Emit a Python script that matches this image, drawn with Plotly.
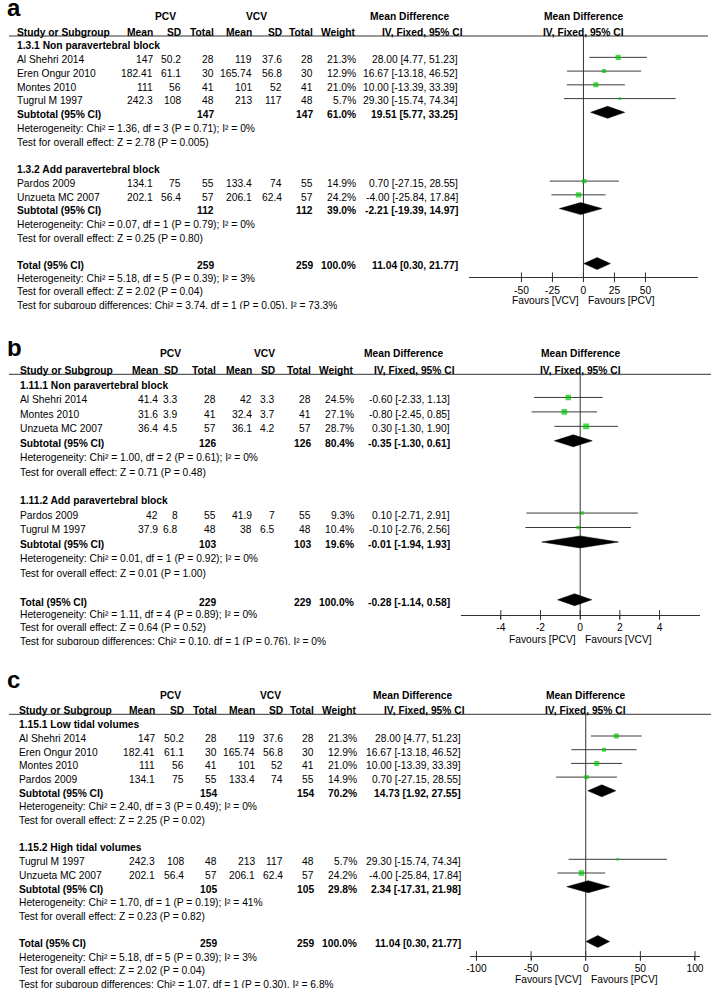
import plotly.graph_objects as go

W, H = 716, 992
FONT = "Liberation Sans, Arial, Helvetica, sans-serif"
FS = 10.25
GREEN = "#00c800"
DARK = "#333333"
TXT_DY = 2.3

# ---------------- Panel a : data ----------------
A_GROUPS = ["1.3.1 Non paravertebral block", "1.3.2 Add paravertebral block"]
A_STUDY = ["Al Shehri 2014", "Eren Ongur 2010", "Montes 2010", "Tugrul M 1997",
           "Pardos 2009", "Unzueta MC 2007"]
A_GROUP_OF = [0, 0, 0, 0, 1, 1]
A_PCV_MEAN = [147, 182.41, 111, 242.3, 134.1, 202.1]
A_PCV_SD = [50.2, 61.1, 56, 108, 75, 56.4]
A_PCV_N = [28, 30, 41, 48, 55, 57]
A_VCV_MEAN = [119, 165.74, 101, 213, 133.4, 206.1]
A_VCV_SD = [37.6, 56.8, 52, 117, 74, 62.4]
A_VCV_N = [28, 30, 41, 48, 55, 57]
A_WEIGHT = [21.3, 12.9, 21.0, 5.7, 14.9, 24.2]
A_MD = [28.00, 16.67, 10.00, 29.30, 0.70, -4.00]
A_LO = [4.77, -13.18, -13.39, -15.74, -27.15, -25.84]
A_HI = [51.23, 46.52, 33.39, 74.34, 28.55, 17.84]
A_SUB_PCV_N = [147, 112]
A_SUB_VCV_N = [147, 112]
A_SUB_WEIGHT = [61.0, 39.0]
A_SUB_MD = [19.51, -2.21]
A_SUB_LO = [5.77, -19.39]
A_SUB_HI = [33.25, 14.97]
A_SUB_HET = ["Chi² = 1.36, df = 3 (P = 0.71); I² = 0%",
             "Chi² = 0.07, df = 1 (P = 0.79); I² = 0%"]
A_SUB_Z = ["Z = 2.78 (P = 0.005)", "Z = 0.25 (P = 0.80)"]
A_TOT_N = [259, 259]
A_TOT_WEIGHT = 100.0
A_TOT_CI = [11.04, 0.30, 21.77]
A_TOT_HET = "Chi² = 5.18, df = 5 (P = 0.39); I² = 3%"
A_TOT_Z = "Z = 2.02 (P = 0.04)"
A_SUBDIFF = "Chi² = 3.74, df = 1 (P = 0.05), I² = 73.3%"
A_TICKS = [-50, -25, 0, 25, 50]
A_TICK_LABELS = ["-50", "-25", "0", "25", "50"]
A_FAVOURS = ["Favours [VCV]", "Favours [PCV]"]

# ---------------- Panel b : data ----------------
B_GROUPS = ["1.11.1 Non paravertebral block", "1.11.2 Add paravertebral block"]
B_STUDY = ["Al Shehri 2014", "Montes 2010", "Unzueta MC 2007", "Pardos 2009", "Tugrul M 1997"]
B_GROUP_OF = [0, 0, 0, 1, 1]
B_PCV_MEAN = [41.4, 31.6, 36.4, 42, 37.9]
B_PCV_SD = [3.3, 3.9, 4.5, 8, 6.8]
B_PCV_N = [28, 41, 57, 55, 48]
B_VCV_MEAN = [42, 32.4, 36.1, 41.9, 38]
B_VCV_SD = [3.3, 3.7, 4.2, 7, 6.5]
B_VCV_N = [28, 41, 57, 55, 48]
B_WEIGHT = [24.5, 27.1, 28.7, 9.3, 10.4]
B_MD = [-0.60, -0.80, 0.30, 0.10, -0.10]
B_LO = [-2.33, -2.45, -1.30, -2.71, -2.76]
B_HI = [1.13, 0.85, 1.90, 2.91, 2.56]
B_SUB_PCV_N = [126, 103]
B_SUB_VCV_N = [126, 103]
B_SUB_WEIGHT = [80.4, 19.6]
B_SUB_MD = [-0.35, -0.01]
B_SUB_LO = [-1.30, -1.94]
B_SUB_HI = [0.61, 1.93]
B_SUB_HET = ["Chi² = 1.00, df = 2 (P = 0.61); I² = 0%",
             "Chi² = 0.01, df = 1 (P = 0.92); I² = 0%"]
B_SUB_Z = ["Z = 0.71 (P = 0.48)", "Z = 0.01 (P = 1.00)"]
B_TOT_N = [229, 229]
B_TOT_WEIGHT = 100.0
B_TOT_CI = [-0.28, -1.14, 0.58]
B_TOT_HET = "Chi² = 1.11, df = 4 (P = 0.89); I² = 0%"
B_TOT_Z = "Z = 0.64 (P = 0.52)"
B_SUBDIFF = "Chi² = 0.10, df = 1 (P = 0.76), I² = 0%"
B_TICKS = [-4, -2, 0, 2, 4]
B_TICK_LABELS = ["-4", "-2", "0", "2", "4"]
B_FAVOURS = ["Favours [PCV]", "Favours [VCV]"]

# ---------------- Panel c : data ----------------
C_GROUPS = ["1.15.1 Low tidal volumes", "1.15.2 High tidal volumes"]
C_STUDY = ["Al Shehri 2014", "Eren Ongur 2010", "Montes 2010", "Pardos 2009",
           "Tugrul M 1997", "Unzueta MC 2007"]
C_GROUP_OF = [0, 0, 0, 0, 1, 1]
C_PCV_MEAN = [147, 182.41, 111, 134.1, 242.3, 202.1]
C_PCV_SD = [50.2, 61.1, 56, 75, 108, 56.4]
C_PCV_N = [28, 30, 41, 55, 48, 57]
C_VCV_MEAN = [119, 165.74, 101, 133.4, 213, 206.1]
C_VCV_SD = [37.6, 56.8, 52, 74, 117, 62.4]
C_VCV_N = [28, 30, 41, 55, 48, 57]
C_WEIGHT = [21.3, 12.9, 21.0, 14.9, 5.7, 24.2]
C_MD = [28.00, 16.67, 10.00, 0.70, 29.30, -4.00]
C_LO = [4.77, -13.18, -13.39, -27.15, -15.74, -25.84]
C_HI = [51.23, 46.52, 33.39, 28.55, 74.34, 17.84]
C_SUB_PCV_N = [154, 105]
C_SUB_VCV_N = [154, 105]
C_SUB_WEIGHT = [70.2, 29.8]
C_SUB_MD = [14.73, 2.34]
C_SUB_LO = [1.92, -17.31]
C_SUB_HI = [27.55, 21.98]
C_SUB_HET = ["Chi² = 2.40, df = 3 (P = 0.49); I² = 0%",
             "Chi² = 1.70, df = 1 (P = 0.19); I² = 41%"]
C_SUB_Z = ["Z = 2.25 (P = 0.02)", "Z = 0.23 (P = 0.82)"]
C_TOT_N = [259, 259]
C_TOT_WEIGHT = 100.0
C_TOT_CI = [11.04, 0.30, 21.77]
C_TOT_HET = "Chi² = 5.18, df = 5 (P = 0.39); I² = 3%"
C_TOT_Z = "Z = 2.02 (P = 0.04)"
C_SUBDIFF = "Chi² = 1.07, df = 1 (P = 0.30), I² = 6.8%"
C_TICKS = [-100, -50, 0, 50, 100]
C_TICK_LABELS = ["-100", "-50", "0", "50", "100"]
C_FAVOURS = ["Favours [VCV]", "Favours [PCV]"]

HEAD_COLS = ["Mean", "SD", "Total", "Mean", "SD", "Total", "Weight"]

# ---------------- page geometry (pixels) ----------------
GEO = [
    dict(label="a", label_base=15, head1=16.7, head2=32.3, line_y=36, row0=43.6, dy=13.75,
         foot_dy=12.8, axis_y=277.3, fav_y=300.7, left=12,
         cols=[152, 180, 213, 252, 282, 313, 357],
         pcv_x=163, vcv_x=255, md_left=369, iv_right=465, ci_right=460,
         dom=(470, 702), rng=(-92.5, 92.5), line_r=712),
    dict(label="b", label_base=355, head1=353.3, head2=370, line_y=374.3, row0=383, dy=14.45,
         foot_dy=12.8, axis_y=615, fav_y=639.3, left=15,
         cols=[157, 177, 215, 252, 275, 311, 355],
         pcv_x=168, vcv_x=263, md_left=363, iv_right=457, ci_right=452,
         dom=(461.7, 704.3), rng=(-6.03, 6.06), line_r=715),
    dict(label="c", label_base=687, head1=695, head2=710.7, line_y=714.3, row0=722.3, dy=13.7,
         foot_dy=13.2, axis_y=956, fav_y=979.3, left=14,
         cols=[154, 183, 216, 255, 283, 315, 358],
         pcv_x=168, vcv_x=270, md_left=372, iv_right=467, ci_right=463,
         dom=(471.7, 704), rng=(-105.5, 104.7), line_r=715),
]

DATA = [
    dict(groups=A_GROUPS, study=A_STUDY, group_of=A_GROUP_OF, pm=A_PCV_MEAN, psd=A_PCV_SD,
         pn=A_PCV_N, vm=A_VCV_MEAN, vsd=A_VCV_SD, vn=A_VCV_N, w=A_WEIGHT, md=A_MD, lo=A_LO,
         hi=A_HI, spn=A_SUB_PCV_N, svn=A_SUB_VCV_N, sw=A_SUB_WEIGHT, smd=A_SUB_MD,
         slo=A_SUB_LO, shi=A_SUB_HI, shet=A_SUB_HET, sz=A_SUB_Z, tn=A_TOT_N, tw=A_TOT_WEIGHT,
         tci=A_TOT_CI, thet=A_TOT_HET, tz=A_TOT_Z, sdiff=A_SUBDIFF, ticks=A_TICKS,
         ticklab=A_TICK_LABELS, fav=A_FAVOURS),
    dict(groups=B_GROUPS, study=B_STUDY, group_of=B_GROUP_OF, pm=B_PCV_MEAN, psd=B_PCV_SD,
         pn=B_PCV_N, vm=B_VCV_MEAN, vsd=B_VCV_SD, vn=B_VCV_N, w=B_WEIGHT, md=B_MD, lo=B_LO,
         hi=B_HI, spn=B_SUB_PCV_N, svn=B_SUB_VCV_N, sw=B_SUB_WEIGHT, smd=B_SUB_MD,
         slo=B_SUB_LO, shi=B_SUB_HI, shet=B_SUB_HET, sz=B_SUB_Z, tn=B_TOT_N, tw=B_TOT_WEIGHT,
         tci=B_TOT_CI, thet=B_TOT_HET, tz=B_TOT_Z, sdiff=B_SUBDIFF, ticks=B_TICKS,
         ticklab=B_TICK_LABELS, fav=B_FAVOURS),
    dict(groups=C_GROUPS, study=C_STUDY, group_of=C_GROUP_OF, pm=C_PCV_MEAN, psd=C_PCV_SD,
         pn=C_PCV_N, vm=C_VCV_MEAN, vsd=C_VCV_SD, vn=C_VCV_N, w=C_WEIGHT, md=C_MD, lo=C_LO,
         hi=C_HI, spn=C_SUB_PCV_N, svn=C_SUB_VCV_N, sw=C_SUB_WEIGHT, smd=C_SUB_MD,
         slo=C_SUB_LO, shi=C_SUB_HI, shet=C_SUB_HET, sz=C_SUB_Z, tn=C_TOT_N, tw=C_TOT_WEIGHT,
         tci=C_TOT_CI, thet=C_TOT_HET, tz=C_TOT_Z, sdiff=C_SUBDIFF, ticks=C_TICKS,
         ticklab=C_TICK_LABELS, fav=C_FAVOURS),
]

fig = go.Figure()
ann = []
shapes = []
axes = {}


def T(x, y, s, anchor="left", bold=False, size=FS, xref="paper", xshift=0):
    ann.append(dict(x=(x / W) if xref == "paper" else x, xref=xref, y=y, yref="y",
                    text=f"<b>{s}</b>" if bold else s, xanchor=anchor, yanchor="middle",
                    showarrow=False, borderpad=0, xshift=xshift,
                    font=dict(family=FONT, size=size, color="black")))


def T_clipped(x, y, s):
    # the last line of every panel is cut off at its baseline in the source figure
    ann.append(dict(x=x / W, xref="paper", y=y - 5.7, yref="y", text=s,
                    xanchor="left", yanchor="top", valign="top", height=9,
                    showarrow=False, borderpad=0,
                    font=dict(family=FONT, size=FS, color="black")))


def panel_label(base, s):
    # bottom-aligned box of 20 px whose text baseline sits at `base`
    ann.append(dict(x=2 / W, xref="paper", y=base - 15, yref="y", text=f"<b>{s}</b>",
                    xanchor="left", yanchor="top", valign="bottom", height=20,
                    showarrow=False, borderpad=0,
                    font=dict(family=FONT, size=24, color="black")))


def g(v):
    return f"{v:g}"


def ci(md, lo, hi):
    return f"{md:.2f} [{lo:.2f}, {hi:.2f}]"


for n, (D, G) in enumerate(zip(DATA, GEO), start=1):
    xa = "x" if n == 1 else f"x{n}"
    axkey = "xaxis" if n == 1 else f"xaxis{n}"

    def ry(k):
        return G["row0"] + k * G["dy"]

    # headers
    panel_label(G["label_base"], G["label"])
    T(G["pcv_x"], G["head1"], "PCV", "center", True)
    T(G["vcv_x"], G["head1"], "VCV", "center", True)
    T(G["left"], G["head2"], "Study or Subgroup", "left", True)
    for x, s in zip(G["cols"], HEAD_COLS):
        T(x, G["head2"], s, "right", True)
    T(G["md_left"], G["head1"], "Mean Difference", "left", True)
    T(G["iv_right"], G["head2"], "IV, Fixed, 95% CI", "right", True)
    T(0, G["head1"], "Mean Difference", "center", True, xref=xa)
    T(0, G["head2"], "IV, Fixed, 95% CI", "center", True, xref=xa)
    shapes.append(dict(type="line", xref="paper", yref="y", x0=5 / W, x1=G["line_r"] / W,
                       y0=G["line_y"], y1=G["line_y"], line=dict(color=DARK, width=1)))

    # zero line
    fig.add_trace(go.Scatter(x=[0, 0], y=[G["line_y"], G["axis_y"]], mode="lines",
                             line=dict(color=DARK, width=1), xaxis=xa, yaxis="y",
                             hoverinfo="skip", showlegend=False))

    ci_x, ci_y, sq_x, sq_y, sq_s = [], [], [], [], []
    diamonds = []
    k = 0
    for gi, gname in enumerate(D["groups"]):
        T(G["left"], ry(k) + TXT_DY, gname, "left", True)
        k += 1
        for i, gg in enumerate(D["group_of"]):
            if gg != gi:
                continue
            y = ry(k)
            T(G["left"], y + TXT_DY, D["study"][i])
            vals = [g(D["pm"][i]), g(D["psd"][i]), g(D["pn"][i]),
                    g(D["vm"][i]), g(D["vsd"][i]), g(D["vn"][i]), f"{D['w'][i]:.1f}%"]
            for x, s in zip(G["cols"], vals):
                T(x, y + TXT_DY, s, "right")
            T(G["ci_right"], y + TXT_DY, ci(D["md"][i], D["lo"][i], D["hi"][i]), "right")
            ci_x += [D["lo"][i], D["hi"][i], None]
            ci_y += [y, y, None]
            sq_x.append(D["md"][i])
            sq_y.append(y)
            sq_s.append(max(2.0, 1.1 * D["w"][i] ** 0.5))
            k += 1
        y = ry(k)
        T(G["left"], y + TXT_DY, "Subtotal (95% CI)", "left", True)
        T(G["cols"][2], y + TXT_DY, g(D["spn"][gi]), "right", True)
        T(G["cols"][5], y + TXT_DY, g(D["svn"][gi]), "right", True)
        T(G["cols"][6], y + TXT_DY, f"{D['sw'][gi]:.1f}%", "right", True)
        T(G["ci_right"], y + TXT_DY, ci(D["smd"][gi], D["slo"][gi], D["shi"][gi]), "right", True)
        diamonds.append((D["smd"][gi], D["slo"][gi], D["shi"][gi], y))
        k += 1
        T(G["left"], ry(k) + TXT_DY, "Heterogeneity: " + D["shet"][gi])
        k += 1
        T(G["left"], ry(k) + TXT_DY, "Test for overall effect: " + D["sz"][gi])
        k += 2
    y = ry(k)
    T(G["left"], y + TXT_DY, "Total (95% CI)", "left", True)
    T(G["cols"][2], y + TXT_DY, g(D["tn"][0]), "right", True)
    T(G["cols"][5], y + TXT_DY, g(D["tn"][1]), "right", True)
    T(G["cols"][6], y + TXT_DY, f"{D['tw']:.1f}%", "right", True)
    T(G["ci_right"], y + TXT_DY, ci(*D["tci"]), "right", True)
    diamonds.append((D["tci"][0], D["tci"][1], D["tci"][2], y))
    fd = G["foot_dy"]
    T(G["left"], y + fd + TXT_DY, "Heterogeneity: " + D["thet"])
    T(G["left"], y + 2 * fd + TXT_DY, "Test for overall effect: " + D["tz"])
    T_clipped(G["left"], y + 3 * fd + TXT_DY, "Test for subgroup differences: " + D["sdiff"])

    # forest marks
    fig.add_trace(go.Scatter(x=ci_x, y=ci_y, mode="lines", line=dict(color="#3a3a3a", width=1),
                             xaxis=xa, yaxis="y", hoverinfo="skip", showlegend=False))
    fig.add_trace(go.Scatter(x=sq_x, y=sq_y, mode="markers",
                             marker=dict(symbol="square", size=sq_s, color=GREEN, line=dict(width=0)),
                             xaxis=xa, yaxis="y", hoverinfo="skip", showlegend=False))
    for md, lo, hi, yy in diamonds:
        fig.add_trace(go.Scatter(x=[lo, md, hi, md, lo], y=[yy, yy - 6, yy, yy + 6, yy],
                                 mode="lines", fill="toself", fillcolor="black",
                                 line=dict(color="black", width=0.5),
                                 xaxis=xa, yaxis="y", hoverinfo="skip", showlegend=False))
    # crossing tick marks
    fig.add_trace(go.Scatter(x=D["ticks"], y=[G["axis_y"]] * len(D["ticks"]), mode="markers",
                             marker=dict(symbol="line-ns", size=7, line=dict(color=DARK, width=1)),
                             xaxis=xa, yaxis="y", hoverinfo="skip", showlegend=False))

    T(0, G["fav_y"], D["fav"][0], "right", xref=xa, xshift=-3)
    T(0, G["fav_y"], D["fav"][1], "left", xref=xa, xshift=4)

    axes[axkey] = dict(domain=[G["dom"][0] / W, G["dom"][1] / W], range=list(G["rng"]),
                       anchor="free", position=1 - G["axis_y"] / H, side="bottom",
                       showline=True, linecolor=DARK, linewidth=1,
                       tickmode="array", tickvals=D["ticks"], ticktext=D["ticklab"],
                       ticks="outside", ticklen=3, tickcolor=DARK,
                       tickfont=dict(family=FONT, size=FS, color="black"),
                       showgrid=False, zeroline=False, fixedrange=True)

fig.update_layout(
    width=W, height=H, margin=dict(l=0, r=0, t=0, b=0),
    paper_bgcolor="white", plot_bgcolor="rgba(0,0,0,0)",
    yaxis=dict(range=[H, 0], domain=[0, 1], visible=False, fixedrange=True),
    annotations=ann, shapes=shapes, showlegend=False,
    **axes,
)

fig.write_html("out.html", config={"displayModeBar": False},
               post_script="document.body.style.margin='0px';document.body.style.padding='0px';")
